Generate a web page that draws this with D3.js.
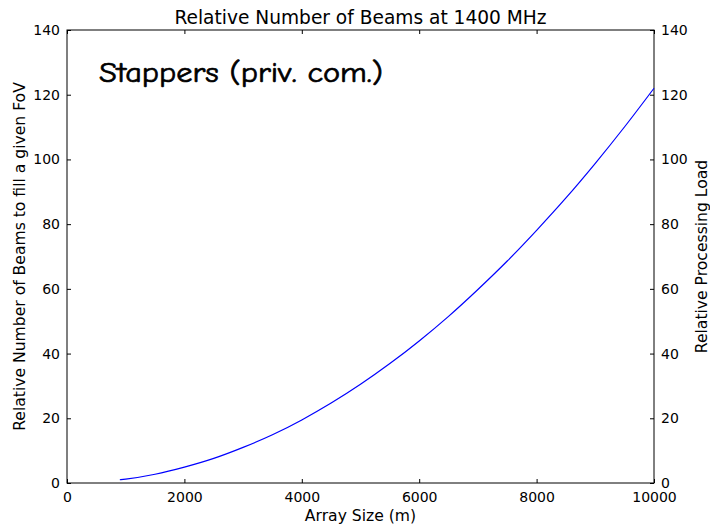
<!DOCTYPE html>
<html>
<head>
<meta charset="utf-8">
<script src="https://cdn.jsdelivr.net/npm/d3@7"></script>
<style>
  html, body { margin: 0; padding: 0; background: #fff; }
  svg { display: block; }
  text { font-family: "DejaVu Sans", sans-serif; fill: #000; }
</style>
</head>
<body>
<svg id="chart" width="710" height="526"></svg>
<script>
// Array size (m) and relative number of beams needed to fill the field of view
const arraySize = [900, 1000, 1500, 2000, 2500, 3000, 3500, 4000, 4500, 5000,
                   5500, 6000, 6500, 7000, 7500, 8000, 8500, 9000, 9500, 10000];
const relBeams  = [1.0, 1.2, 2.7, 4.9, 7.6, 11.0, 14.9, 19.5, 24.7, 30.5,
                   36.9, 43.9, 51.5, 59.8, 68.6, 78.1, 88.1, 98.8, 110.1, 122.0];
const xTicks = [0, 2000, 4000, 6000, 8000, 10000];
const yTicks = [0, 20, 40, 60, 80, 100, 120, 140];

const titleText = "Relative Number of Beams at 1400 MHz";
const xLabel = "Array Size (m)";
const yLabelLeft = "Relative Number of Beams to fill a given FoV";
const yLabelRight = "Relative Processing Load";
const note = "Stappers (priv. com.)";

const svg = d3.select("#chart");
const m = { left: 67, right: 654, top: 30, bottom: 483 };

const x = d3.scaleLinear().domain([0, 10000]).range([m.left, m.right]);
const y = d3.scaleLinear().domain([0, 140]).range([m.bottom, m.top]);

// Axes with inward ticks
function styleAxis(g) {
  g.selectAll("path.domain").remove();
  g.selectAll(".tick line").attr("stroke", "#000").attr("stroke-width", 1);
  g.selectAll(".tick text").style("font-size", "14px").style("font-family", "DejaVu Sans, sans-serif");
}

svg.append("g").attr("transform", `translate(0,${m.bottom})`)
  .call(d3.axisBottom(x).tickValues(xTicks).tickFormat(d3.format("d"))
    .tickSizeInner(-4).tickSizeOuter(0).tickPadding(9))
  .call(styleAxis);

svg.append("g").attr("transform", `translate(0,${m.top})`)
  .call(d3.axisTop(x).tickValues(xTicks).tickFormat("")
    .tickSizeInner(-4).tickSizeOuter(0))
  .call(styleAxis);

svg.append("g").attr("transform", `translate(${m.left},0)`)
  .call(d3.axisLeft(y).tickValues(yTicks).tickFormat(d3.format("d"))
    .tickSizeInner(-4).tickSizeOuter(0).tickPadding(7))
  .call(styleAxis);

svg.append("g").attr("transform", `translate(${m.right},0)`)
  .call(d3.axisRight(y).tickValues(yTicks).tickFormat(d3.format("d"))
    .tickSizeInner(-4).tickSizeOuter(0).tickPadding(7))
  .call(styleAxis);

// Frame
svg.append("rect")
  .attr("x", m.left).attr("y", m.top)
  .attr("width", m.right - m.left).attr("height", m.bottom - m.top)
  .attr("fill", "none").attr("stroke", "#000").attr("stroke-width", 1);

// Curve
const line = d3.line()
  .x((d, i) => x(arraySize[i]))
  .y(d => y(d))
  .curve(d3.curveMonotoneX);

svg.append("path")
  .datum(relBeams)
  .attr("d", line)
  .attr("fill", "none")
  .attr("stroke", "#0000ff")
  .attr("stroke-width", 1.2);

// Titles and labels
svg.append("text")
  .attr("x", (m.left + m.right) / 2).attr("y", 24)
  .attr("text-anchor", "middle").style("font-size", "18.6px")
  .text(titleText);

svg.append("text")
  .attr("x", (m.left + m.right) / 2).attr("y", 521)
  .attr("text-anchor", "middle").style("font-size", "15.6px")
  .text(xLabel);

svg.append("text")
  .attr("transform", `translate(25,${(m.top + m.bottom) / 2}) rotate(-90)`)
  .attr("text-anchor", "middle").style("font-size", "15.6px")
  .text(yLabelLeft);

svg.append("text")
  .attr("transform", `translate(707,${(m.top + m.bottom) / 2}) rotate(-90)`)
  .attr("text-anchor", "middle").style("font-size", "15.6px")
  .text(yLabelRight);

svg.append("text")
  .attr("x", 99).attr("y", 82)
  .attr("textLength", 284).attr("lengthAdjust", "spacingAndGlyphs")
  .style("font-family", "'Comic Sans MS', 'Comic Neue', 'Lato', sans-serif")
  .style("font-size", "29px")
  .attr("stroke", "#000").attr("stroke-width", 0.7)
  .text(note);
</script>
</body>
</html>
